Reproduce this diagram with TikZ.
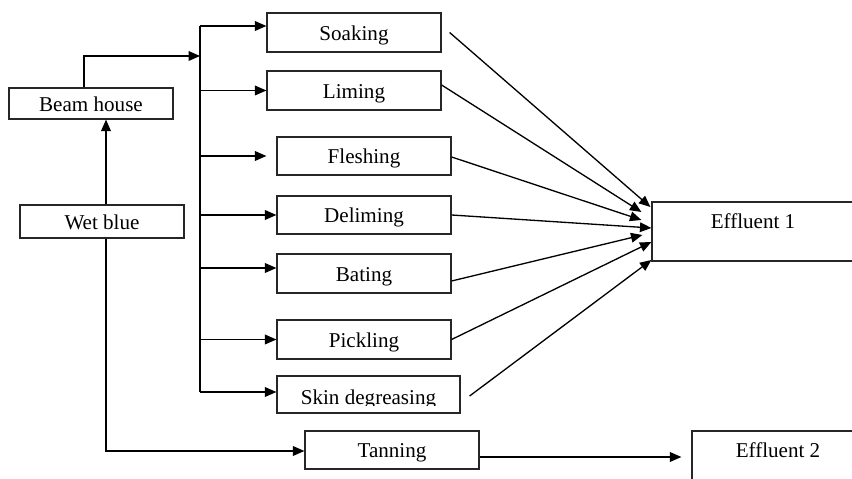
\documentclass[tikz,border=0pt]{standalone}
\usepackage{fontspec}
\setmainfont{Liberation Serif}
\usetikzlibrary{arrows.meta,calc}
\begin{document}
\begin{tikzpicture}[x=0.02cm,y=-0.02cm,
  line width=0.75pt,
  box/.style 2 args={draw=black!85, line width=0.7pt, inner sep=0pt,
    minimum width=#1*0.02cm, minimum height=#2*0.02cm,
    text height=9pt, text depth=0pt,
    font=\fontsize{12}{14}\selectfont},
  txt/.style={inner sep=0pt, font=\fontsize{12}{14}\selectfont},
  arr/.style={-{Triangle[length=6.5pt,width=5.5pt]}, line width=0.75pt}]
\useasboundingbox (0,0) rectangle (852,479);
\fill[white] (0,0) rectangle (852,479);

% nodes
\node[box={164}{31}] (beam) at (91,103.5) {Beam house};
\node[box={164}{33}] (wet) at (102,221.5) {Wet blue};
\node[box={174}{39}] (soak) at (354,32.5) {Soaking};
\node[box={174}{39}] (lim) at (354,90.5) {Liming};
\node[box={174}{38}] (flesh) at (364,156) {Fleshing};
\node[box={174}{38}] (del) at (364,215) {Deliming};
\node[box={174}{39}] (bat) at (364,273.5) {Bating};
\node[box={174}{39}] (pick) at (364,339.5) {Pickling};
\node[box={183}{37}] (skin) at (368.5,394.5) {};
\begin{scope}
  \clip (277,376) rectangle (460,406);
  \node[txt, anchor=base] (skint) at (368.5,405) {Skin degreasing};
\end{scope}
\node[box={174}{38}] (tan) at (392,450) {Tanning};
\node[box={210}{59}] (eff1) at (757,231.5) {};
\node[txt, anchor=base] (eff1t) at (753,229) {Effluent 1};
\node[box={170}{60}] (eff2) at (777,461) {};
\node[txt, anchor=base] (eff2t) at (778,458) {Effluent 2};

% left side
\coordinate (wb1) at ($(wet.north)+(4,0)$);
\coordinate (wb2) at ($(wet.south)+(4,0)$);
\draw[arr] (wb1) -- (wb1 |- beam.south);
\draw[arr] (wb2) |- ($(tan.west)+(0,1)$);
\coordinate (busj) at (200,56);
\draw[arr] ($(beam.north)+(-7,0)$) |- (busj);

% bus
\coordinate (bustop) at (200,26);
\coordinate (busbot) at (200,392);
\draw (bustop) -- (busbot);
\draw[arr] (bustop) -- ($(soak.west)+(0,-6.5)$);
\draw[arr] (bustop |- lim.west) -- (lim.west);
\draw[arr] (bustop |- flesh.west) -- ($(flesh.west)+(-10,0)$);
\draw[arr] (bustop |- del.west) -- (del.west);
\coordinate (batin) at ($(bat.west)+(0,-5.5)$);
\draw[arr] (bustop |- batin) -- (batin);
\draw[arr] (bustop |- pick.west) -- (pick.west);
\coordinate (skinin) at ($(skin.west)+(0,-2.5)$);
\draw[arr] (busbot) -- (skinin);

% into Effluent 1
\coordinate (e1a) at ($(eff1.west)+(-1,-24.5)$);
\coordinate (e1b) at ($(eff1.west)+(-10,-19.5)$);
\coordinate (e1c) at ($(eff1.west)+(-10,-11.5)$);
\coordinate (e1d) at ($(eff1.west)+(0,-3.5)$);
\coordinate (e1e) at ($(eff1.west)+(-9,3.5)$);
\coordinate (e1f) at ($(eff1.west)+(0,10.5)$);
\coordinate (e1g) at ($(eff1.west)+(0,28.5)$);
\draw[arr] ($(soak.east)+(8,0)$) -- (e1a);
\draw[arr] ($(lim.east)+(0,-5.5)$) -- (e1b);
\draw[arr] ($(flesh.east)+(0,1)$) -- (e1c);
\draw[arr] (del.east) -- (e1d);
\draw[arr] ($(bat.east)+(0,7.5)$) -- (e1e);
\draw[arr] (pick.east) -- (e1f);
\draw[arr] ($(skin.east)+(9,1.5)$) -- (e1g);

% Tanning to Effluent 2
\coordinate (e2in) at ($(eff2.west)+(-10,-4)$);
\draw[arr] ($(tan.east)+(0,7)$) -- (e2in);
\end{tikzpicture}
\end{document}
